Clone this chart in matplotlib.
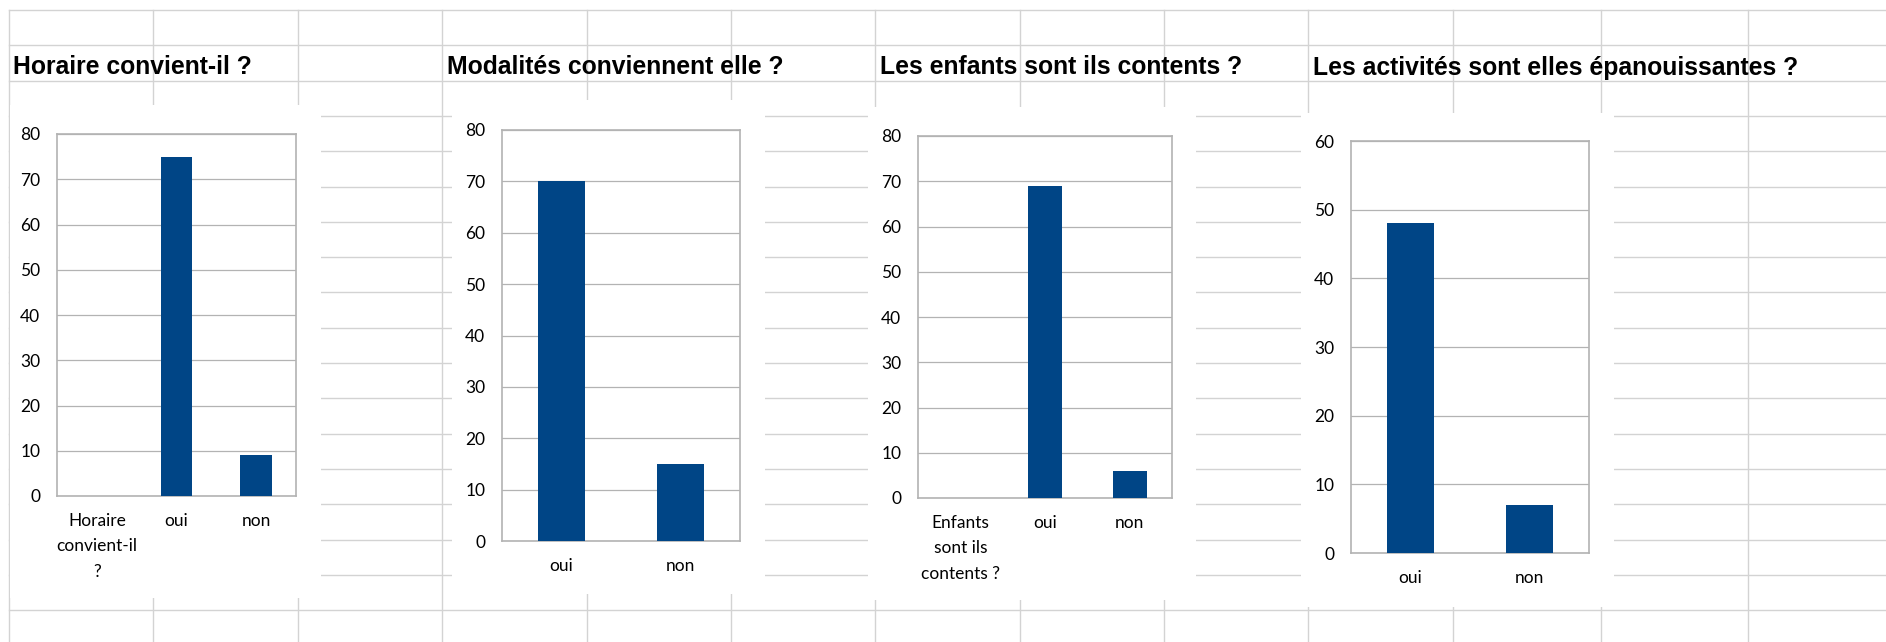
import matplotlib
matplotlib.use("Agg")
import matplotlib.pyplot as plt
from matplotlib.lines import Line2D
from matplotlib.patches import Rectangle

# ---------------- data ----------------
titles = ["Horaire convient-il ?",
          "Modalités conviennent elle ?",
          "Les enfants sont ils contents ?",
          "Les activités sont elles épanouissantes ?"]

cats1 = ["Horaire\nconvient-il\n?", "oui", "non"]
vals1 = [0, 75, 9]

cats2 = ["oui", "non"]
vals2 = [70, 15]

cats3 = ["Enfants\nsont ils\ncontents ?", "oui", "non"]
vals3 = [0, 69, 6]

cats4 = ["oui", "non"]
vals4 = [48, 7]

ymax = [80, 80, 80, 60]
yticks = [list(range(0, 81, 10)), list(range(0, 81, 10)),
          list(range(0, 81, 10)), list(range(0, 61, 10))]

# ---------------- layout (pixels) ----------------
W, H, DPI = 1886, 642, 100
BAR = "#004586"
SHEET = "#d3d3d3"
FRAME = "#b3b3b3"

fig = plt.figure(figsize=(W / DPI, H / DPI), dpi=DPI)
fig.patch.set_facecolor("white")


def fx(x):
    return x / W


def fy(y):
    return 1 - y / H


# spreadsheet grid
col_lines = [9, 153, 298, 442, 587, 731, 875, 1020, 1164, 1308, 1453, 1601, 1748]
row_lines = [10 + 35.3 * k for k in range(18)]
for x in col_lines:
    fig.add_artist(Line2D([fx(x), fx(x)], [fy(10), fy(H)], color=SHEET,
                          lw=1.0, transform=fig.transFigure, zorder=0))
for y in row_lines:
    fig.add_artist(Line2D([fx(9), fx(W)], [fy(y), fy(y)], color=SHEET,
                          lw=1.0, transform=fig.transFigure, zorder=0))

# chart object areas (white) covering grid
chart_boxes = [(10, 105, 321, 598), (452, 100, 765, 594),
               (868, 107, 1196, 600), (1301, 113, 1614, 607)]
for (x0, y0, x1, y1) in chart_boxes:
    fig.add_artist(Rectangle((fx(x0), fy(y1)), (x1 - x0) / W, (y1 - y0) / H,
                             transform=fig.transFigure, facecolor="white",
                             edgecolor="none", zorder=1))

# titles in the header row
title_x = [13, 447, 880, 1313]
for tx, t in zip(title_x, titles):
    fig.text(fx(tx), fy(74.5), t, ha="left", va="baseline",
             family=["Liberation Sans", "DejaVu Sans"], weight="bold",
             fontsize=17.8, color="black", zorder=3)

# plot areas (left, top, right, bottom)
axes_px = [(57, 134, 296, 496), (502, 130, 740, 541),
           (918, 136, 1172, 498), (1351, 141, 1589, 553)]
all_cats = [cats1, cats2, cats3, cats4]
all_vals = [vals1, vals2, vals3, vals4]

for (l, t, r, b), cats, vals, ym, yt in zip(axes_px, all_cats, all_vals, ymax, yticks):
    ax = fig.add_axes([fx(l), fy(b), (r - l) / W, (b - t) / H])
    ax.set_zorder(2)
    ax.set_facecolor("white")
    pos = list(range(len(cats)))
    ax.bar(pos, vals, width=0.4, color=BAR, edgecolor="none", zorder=3)
    ax.set_xlim(-0.5, len(cats) - 0.5)
    ax.set_ylim(0, ym)
    ax.set_yticks(yt)
    ax.set_xticks(pos)
    ax.set_xticklabels(cats, linespacing=1.75)
    ax.yaxis.grid(True, color=FRAME, lw=0.9)
    ax.set_axisbelow(True)
    for s in ax.spines.values():
        s.set_color(FRAME)
        s.set_linewidth(1.2)
    ax.tick_params(axis="both", length=0, labelsize=12.5, labelcolor="black")
    ax.tick_params(axis="y", pad=12)
    ax.tick_params(axis="x", pad=12)
    for lab in ax.get_xticklabels() + ax.get_yticklabels():
        lab.set_family(["Lato", "DejaVu Sans"])

fig.savefig("out.png", dpi=DPI, facecolor="white")
